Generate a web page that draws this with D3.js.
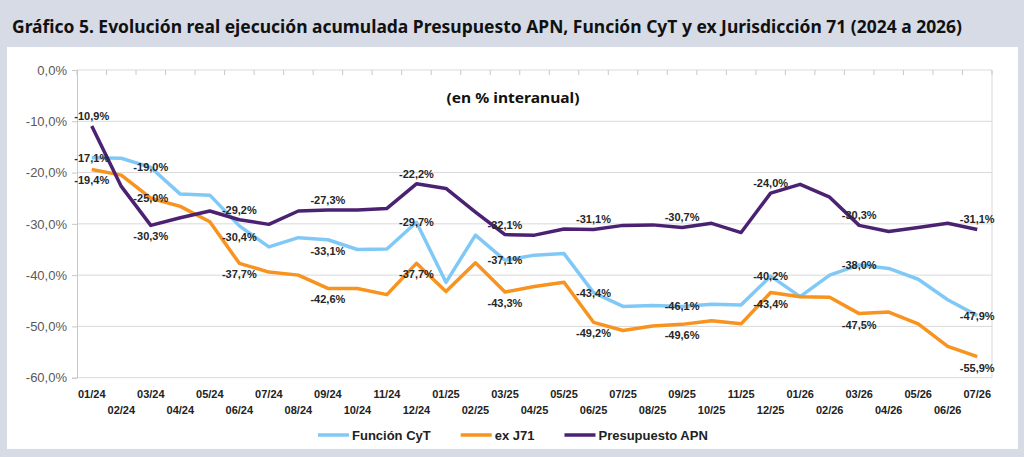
<!DOCTYPE html>
<html>
<head>
<meta charset="utf-8">
<script src="https://cdn.jsdelivr.net/npm/d3@7"></script>
<style>
  body { margin: 0; background: #d6dbe5; }
  svg { display: block; }
  .tick text { font-family: "Liberation Sans", Arial, sans-serif; }
</style>
</head>
<body>
<svg id="chart" width="1024" height="457"></svg>
<script>
// Data (% interanual)
const months = ["01/24","02/24","03/24","04/24","05/24","06/24","07/24","08/24","09/24","10/24","11/24","12/24",
  "01/25","02/25","03/25","04/25","05/25","06/25","07/25","08/25","09/25","10/25","11/25","12/25",
  "01/26","02/26","03/26","04/26","05/26","06/26","07/26"];

const funcionCyT = [-17.1, -17.2, -19.0, -24.2, -24.4, -30.4, -34.5, -32.7, -33.1, -35.0, -34.9, -29.7,
  -41.4, -32.2, -37.1, -36.1, -35.8, -43.4, -46.1, -45.9, -46.1, -45.7, -45.8, -40.2,
  -44.2, -40.0, -38.0, -38.7, -40.8, -44.8, -47.9];

const exJ71 = [-19.4, -20.5, -25.0, -26.6, -29.6, -37.7, -39.4, -40.0, -42.6, -42.6, -43.8, -37.7,
  -43.2, -37.6, -43.3, -42.2, -41.4, -49.2, -50.8, -49.9, -49.6, -48.9, -49.5, -43.4,
  -44.2, -44.3, -47.5, -47.2, -49.5, -53.9, -55.9];

const presupuestoAPN = [-10.9, -22.7, -30.3, -28.8, -27.5, -29.2, -30.1, -27.5, -27.3, -27.3, -27.0, -22.2,
  -23.1, -27.7, -32.1, -32.2, -31.0, -31.1, -30.3, -30.2, -30.7, -29.9, -31.7, -24.0,
  -22.3, -24.8, -30.3, -31.5, -30.7, -29.9, -31.1];

const yTicks = [0, -10, -20, -30, -40, -50, -60];

// months that carry a data label
const labelIdx = [0, 2, 5, 8, 11, 14, 17, 20, 23, 26, 30];

// label placement: a = above, b = below, c = centered on point
const series = [
  {name: "Función CyT", values: funcionCyT, color: "#80c9f6",
   place: ["c","c","b","b","c","c","c","c","c","c","c"]},
  {name: "ex J71", values: exJ71, color: "#f7931e",
   place: ["b","c","b","b","b","b","b","b","b","b","b"]},
  {name: "Presupuesto APN", values: presupuestoAPN, color: "#4b2272",
   place: ["a","b","a","a","a","a","a","a","a","a","a"]}
];

const svg = d3.select("#chart");
const width = +svg.attr("width");
const height = +svg.attr("height");

const es = d3.formatLocale({decimal: ",", thousands: ".", grouping: [3], currency: ["", ""], minus: "-"});
const fmt = es.format(".1f");

// Background panels
svg.append("rect").attr("width", width).attr("height", height).attr("fill", "#d6dbe5");
svg.append("rect")
  .attr("x", 7).attr("y", 47)
  .attr("width", 1011).attr("height", 402)
  .attr("fill", "#fff");

// Title
svg.append("text")
  .attr("x", 12).attr("y", 33)
  .attr("textLength", 950)
  .attr("lengthAdjust", "spacingAndGlyphs")
  .style("font-family", "'Noto Sans', 'Open Sans', sans-serif")
  .style("font-weight", "bold")
  .style("font-size", "18px")
  .attr("fill", "#111")
  .text("Gráfico 5. Evolución real ejecución acumulada Presupuesto APN, Función CyT y ex Jurisdicción 71 (2024 a 2026)");

// Plot area
const margin = {top: 70, left: 77, right: 992, bottom: 377.7};

const x = d3.scaleBand()
  .domain(months)
  .range([margin.left, margin.right])
  .padding(0);

const y = d3.scaleLinear()
  .domain([-60, 0])
  .range([margin.bottom, margin.top]);

const cx = d => x(d) + x.bandwidth() / 2;

// Gridlines
svg.append("g")
  .selectAll("line")
  .data(yTicks)
  .join("line")
    .attr("x1", margin.left).attr("x2", margin.right)
    .attr("y1", d => y(d)).attr("y2", d => y(d))
    .attr("stroke", "#d9d9d9")
    .attr("stroke-width", 1);

// Plot border (right)
svg.append("line")
  .attr("x1", margin.right).attr("x2", margin.right)
  .attr("y1", y(0)).attr("y2", y(-60))
  .attr("stroke", "#d9d9d9");

// Category axis line at 0% with tick marks between categories
svg.append("g")
  .selectAll("line")
  .data(months.concat([null]))
  .join("line")
    .attr("x1", (d, i) => margin.left + i * x.bandwidth())
    .attr("x2", (d, i) => margin.left + i * x.bandwidth())
    .attr("y1", y(0)).attr("y2", y(0) + 5)
    .attr("stroke", "#c8c8c8");

// Y axis
const yAxis = svg.append("g")
  .attr("transform", `translate(${margin.left},0)`)
  .call(d3.axisLeft(y).tickValues(yTicks).tickSize(5).tickPadding(5).tickFormat(d => fmt(d) + "%"));
yAxis.select(".domain").attr("stroke", "#c8c8c8");
yAxis.selectAll(".tick line").attr("stroke", "#c8c8c8");
yAxis.selectAll(".tick text")
  .style("font-size", "13px")
  .attr("fill", "#595959");

// X axis labels (two rows)
const xAxis = svg.append("g")
  .attr("transform", `translate(0,${margin.bottom})`)
  .call(d3.axisBottom(x).tickSize(0).tickPadding(0));
xAxis.select(".domain").remove();
xAxis.selectAll(".tick text")
  .style("font-size", "11px")
  .style("font-weight", "bold")
  .attr("fill", "#222")
  .attr("dy", null)
  .attr("y", (d, i) => i % 2 === 0 ? 20 : 36);

// Lines
const line = d3.line()
  .x((d, i) => cx(months[i]))
  .y(d => y(d));

svg.append("g")
  .selectAll("path")
  .data(series)
  .join("path")
    .attr("fill", "none")
    .attr("stroke", d => d.color)
    .attr("stroke-width", 3.5)
    .attr("stroke-linejoin", "round")
    .attr("d", d => line(d.values));

// Data labels
const offset = {a: -10, b: 11, c: 0};
series.forEach(s => {
  svg.append("g")
    .selectAll("text")
    .data(labelIdx)
    .join("text")
      .attr("x", i => cx(months[i]))
      .attr("y", (i, k) => y(s.values[i]) + offset[s.place[k]])
      .attr("dy", "0.36em")
      .attr("text-anchor", "middle")
      .style("font-family", "'Liberation Sans', Arial, sans-serif")
      .style("font-size", "11px")
      .style("font-weight", "bold")
      .attr("fill", "#262626")
      .text(i => fmt(s.values[i]) + "%");
});

// Subtitle
svg.append("text")
  .attr("x", 513).attr("y", 103)
  .attr("text-anchor", "middle")
  .attr("textLength", 133)
  .attr("lengthAdjust", "spacingAndGlyphs")
  .style("font-family", "'Noto Sans', 'Open Sans', sans-serif")
  .style("font-weight", "bold")
  .style("font-size", "15px")
  .attr("fill", "#111")
  .text("(en % interanual)");

// Legend
const legend = svg.append("g").attr("transform", "translate(318,435)");
let lx = 0;
series.forEach(s => {
  const item = legend.append("g").attr("transform", `translate(${lx},0)`);
  item.append("line")
    .attr("x1", 0).attr("x2", 31)
    .attr("stroke", s.color)
    .attr("stroke-width", 3.5);
  const t = item.append("text")
    .attr("x", 34)
    .attr("dy", "0.36em")
    .style("font-family", "'Liberation Sans', Arial, sans-serif")
    .style("font-size", "13px")
    .style("font-weight", "bold")
    .attr("fill", "#222")
    .text(s.name);
  lx += 34 + t.node().getComputedTextLength() + 30;
});
</script>
</body>
</html>
